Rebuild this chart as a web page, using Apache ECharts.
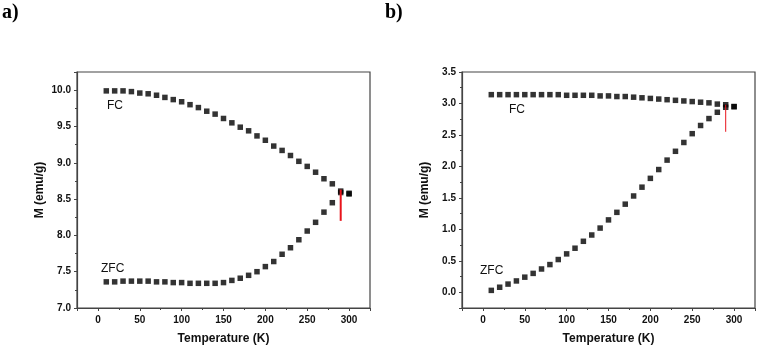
<!DOCTYPE html>
<html lang="en">
<head>
  <meta charset="UTF-8">
  <title>FC / ZFC</title>
  <script src="https://cdn.jsdelivr.net/npm/echarts@6/dist/echarts.min.js"></script>
  <style>
    html, body { margin:0; padding:0; background:#fff; }
    #chart { width:761px; height:351px; }
  </style>
</head>
<body>
<div id="chart"></div>
<script>
  var temps = [10,20,30,40,50,60,70,80,90,100,110,120,130,140,150,160,170,180,190,200,210,220,230,240,250,260,270,280,290,300];

  // panel a
  var fcA  = [9.99,9.99,9.99,9.98,9.96,9.95,9.93,9.90,9.87,9.84,9.80,9.76,9.71,9.67,9.61,9.55,9.49,9.44,9.37,9.31,9.23,9.17,9.10,9.02,8.95,8.87,8.78,8.71,8.61,8.58];
  var zfcA = [7.36,7.36,7.37,7.37,7.37,7.37,7.36,7.36,7.35,7.35,7.34,7.34,7.34,7.34,7.35,7.38,7.41,7.45,7.50,7.57,7.64,7.74,7.83,7.94,8.06,8.18,8.32,8.45,8.59,8.57];
  var redA = [[290,8.63],[290,8.20]];

  // panel b
  var fcB  = [3.14,3.14,3.14,3.14,3.14,3.14,3.14,3.14,3.14,3.13,3.13,3.13,3.13,3.12,3.12,3.11,3.11,3.10,3.09,3.08,3.07,3.06,3.05,3.04,3.03,3.02,3.01,2.99,2.98,2.95];
  var zfcB = [0.03,0.08,0.13,0.18,0.24,0.30,0.37,0.44,0.52,0.61,0.70,0.81,0.91,1.02,1.15,1.27,1.40,1.53,1.67,1.81,1.95,2.10,2.24,2.38,2.52,2.65,2.76,2.86,2.94,2.95];
  var redB = [[290,2.98],[290,2.55]];

  function pairs(xs, ys){ return xs.map(function(x,i){ return [x, ys[i]]; }); }

  var axisCol = '#444';
  var lblStyle = { color:'#111', fontFamily:'Liberation Sans', fontWeight:'bold', fontSize:10 };

  function xAx(idx){
    return {
      gridIndex:idx, type:'value', min:-25, max:325, splitNumber:7,
      name:'Temperature (K)', nameLocation:'middle', nameGap:25,
      nameTextStyle:{ color:'#111', fontFamily:'Liberation Sans', fontWeight:'bold', fontSize:12 },
      axisLine:{ onZero:false, lineStyle:{ color:axisCol, width:1.2 } },
      axisTick:{ length:3, lineStyle:{ color:axisCol } },
      minorTick:{ show:true, splitNumber:2, length:2, lineStyle:{ color:axisCol } },
      axisLabel:Object.assign({ margin:7, formatter:function(v){ return (v % 50 === 0) ? String(v) : ''; } }, lblStyle),
      splitLine:{ show:false }
    };
  }
  function yAx(idx, mn, mx){
    return {
      gridIndex:idx, type:'value', min:mn, max:mx, splitNumber:7,
      name:'M (emu/g)', nameLocation:'middle', nameGap:31,
      nameTextStyle:{ color:'#111', fontFamily:'Liberation Sans', fontWeight:'bold', fontSize:12 },
      axisLine:{ show:true, onZero:false, lineStyle:{ color:axisCol, width:1.2 } },
      axisTick:{ show:true, length:3, lineStyle:{ color:axisCol } },
      minorTick:{ show:true, splitNumber:2, length:2, lineStyle:{ color:axisCol } },
      axisLabel:Object.assign({ margin:6, formatter:function(v){ return (Math.abs(v*2 - Math.round(v*2)) < 1e-6) ? v.toFixed(1) : ''; } }, lblStyle),
      splitLine:{ show:false }
    };
  }
  function sq(name, x, y, data){
    return { name:name, type:'scatter', xAxisIndex:x, yAxisIndex:y, symbol:'rect', symbolSize:5.5,
             itemStyle:{ color:'#000' }, data:data, z:3 };
  }
  function red(x, y, data, w){
    return { type:'line', xAxisIndex:x, yAxisIndex:y, data:data, symbol:'none',
             lineStyle:{ color:'#e8141c', width:w }, z:4, silent:true };
  }

  var chart = echarts.init(document.getElementById('chart'), null, { renderer:'canvas' });
  chart.setOption({
    animation:false,
    backgroundColor:'#fff',
    grid:[
      { left:77, top:72, width:293, height:236, show:true, borderColor:axisCol, borderWidth:1.2 },
      { left:462, top:72, width:293, height:236, show:true, borderColor:axisCol, borderWidth:1.2 }
    ],
    xAxis:[ xAx(0), xAx(1) ],
    yAxis:[ yAx(0, 7, 10.25), yAx(1, -0.25, 3.5) ],
    series:[
      sq('FC a', 0, 0, pairs(temps, fcA)),
      sq('ZFC a', 0, 0, pairs(temps, zfcA)),
      red(0, 0, redA, 2),
      sq('FC b', 1, 1, pairs(temps, fcB)),
      sq('ZFC b', 1, 1, pairs(temps, zfcB)),
      red(1, 1, redB, 1)
    ],
    graphic:[
      { type:'text', left:2, top:3, style:{ text:'a)', font:'bold 20px "Liberation Serif"', fill:'#000' } },
      { type:'text', left:385, top:3, style:{ text:'b)', font:'bold 20px "Liberation Serif"', fill:'#000' } },
      { type:'text', x:107, y:106, style:{ text:'FC', font:'12px "Liberation Sans"', fill:'#111', verticalAlign:'middle' } },
      { type:'text', x:101, y:269, style:{ text:'ZFC', font:'12px "Liberation Sans"', fill:'#111', verticalAlign:'middle' } },
      { type:'text', x:509, y:110, style:{ text:'FC', font:'12px "Liberation Sans"', fill:'#111', verticalAlign:'middle' } },
      { type:'text', x:480, y:271, style:{ text:'ZFC', font:'12px "Liberation Sans"', fill:'#111', verticalAlign:'middle' } }
    ]
  });
</script>
</body>
</html>
